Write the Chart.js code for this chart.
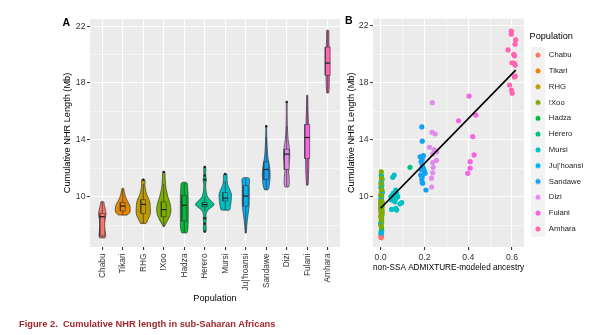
<!DOCTYPE html>
<html>
<head>
<meta charset="utf-8">
<script src="https://cdn.jsdelivr.net/npm/chart.js@4.4.1/dist/chart.umd.min.js"></script>
<style>
  body { margin: 0; background: #fff; font-family: 'Liberation Sans', Arial, sans-serif; }
  #page { position: relative; width: 600px; height: 335px; overflow: hidden; }
  #page canvas { position: absolute; top: 0; }
  .tag { position: absolute; font-size: 10.5px; font-weight: bold; line-height: 1; color: #000; }
  #caption { position: absolute; left: 19px; top: 319.5px; font-size: 9.3px; font-weight: bold; line-height: 1;
             color: #A1272E; white-space: pre; }
</style>
</head>
<body>
<div id="page">
  <canvas id="nhrViolin" width="345" height="335" style="left:0"></canvas>
  <canvas id="nhrScatter" width="260" height="335" style="left:340px"></canvas>
  <div class="tag" style="left:62.5px;top:17px">A</div>
  <div class="tag" style="left:345px;top:15.3px">B</div>
  <div id="caption">Figure 2.  Cumulative NHR length in sub-Saharan Africans</div>
</div>
<script>
// populations, in axis order
const populations = ["Chabu", "Tikari", "RHG", "!Xoo", "Hadza", "Herero", "Mursi",
  "Ju|'hoansi", "Sandawe", "Dizi", "Fulani", "Amhara"];
const popColors = ["#F8766D", "#E58700", "#C09B00", "#7CAE00", "#00BA38", "#00C08B",
  "#00BFC4", "#00B4F0", "#12A2F2", "#E18BEB", "#F564E3", "#FF64B0"];

// shared length axis (Mb)
const yTicks = [8, 10, 12, 14, 16, 18, 20, 22];
const yTickLabels = [10, 14, 18, 22];
// admixture axis
const xTicksB = [0, 0.1, 0.2, 0.3, 0.4, 0.5, 0.6];
const xTickLabelsB = [0, 0.2, 0.4, 0.6];

// box plot summaries per population
const whiskerLow  = [7.12, 8.72, 8.13, 7.90, 7.47, 9.00, 9.07, 7.45, 10.50, 10.70, 10.82, 17.30];
const boxQ1       = [7.24, 9.00, 8.83, 8.60, 8.30, 9.30, 9.70, 9.35, 11.22, 11.92, 12.69, 18.54];
const boxMedian   = [8.60, 9.35, 9.47, 9.10, 9.40, 9.45, 9.90, 10.05, 11.92, 13.00, 14.17, 19.40];
const boxQ3       = [8.83, 9.60, 9.80, 9.65, 10.10, 9.60, 10.30, 10.80, 12.46, 13.35, 15.08, 20.53];
const whiskerHigh = [9.65, 10.59, 10.90, 10.90, 10.98, 10.00, 11.10, 11.30, 14.20, 15.00, 17.14, 21.70];
const boxOutliers = [[], [], [11.2], [11.75], [], [12.1, 11.5, 11.2, 8.5, 8.1, 7.55], [11.6], [],
  [14.96], [16.67], [], []];

// violin profiles: [length, relative density]
const violinShapes = [
  [[7.12, 0.30], [7.3, 0.36], [7.6, 0.30], [7.9, 0.22], [8.2, 0.24], [8.5, 0.34], [8.8, 0.40], [9.1, 0.34], [9.4, 0.22], [9.65, 0.14]],
  [[8.72, 0.45], [8.85, 0.70], [9.0, 0.80], [9.2, 0.80], [9.45, 0.72], [9.7, 0.50], [10.0, 0.30], [10.3, 0.18], [10.59, 0.08]],
  [[8.13, 0.30], [8.4, 0.50], [8.7, 0.72], [9.0, 0.78], [9.3, 0.75], [9.6, 0.72], [9.9, 0.55], [10.2, 0.35], [10.5, 0.25], [10.8, 0.18], [11.2, 0.16]],
  [[7.9, 0.05], [8.2, 0.30], [8.5, 0.55], [8.8, 0.72], [9.1, 0.78], [9.4, 0.72], [9.7, 0.60], [10.0, 0.45], [10.4, 0.30], [10.8, 0.20], [11.3, 0.15], [11.75, 0.10]],
  [[7.47, 0.28], [7.7, 0.38], [8.2, 0.42], [8.8, 0.43], [9.4, 0.43], [10.0, 0.42], [10.5, 0.38], [10.98, 0.28]],
  [[7.55, 0.12], [7.8, 0.16], [8.1, 0.12], [8.5, 0.16], [8.8, 0.14], [9.1, 0.40], [9.35, 0.90], [9.5, 1.00], [9.7, 0.70], [10.0, 0.30], [10.4, 0.14], [10.9, 0.10], [11.2, 0.18], [11.5, 0.10], [12.1, 0.10]],
  [[9.07, 0.45], [9.3, 0.55], [9.6, 0.62], [9.9, 0.66], [10.2, 0.66], [10.5, 0.50], [10.8, 0.30], [11.1, 0.20], [11.35, 0.20], [11.6, 0.15]],
  [[7.45, 0.05], [7.9, 0.10], [8.4, 0.18], [8.9, 0.28], [9.3, 0.36], [9.8, 0.38], [10.3, 0.38], [10.8, 0.38], [11.3, 0.36]],
  [[10.5, 0.20], [10.8, 0.33], [11.2, 0.40], [11.6, 0.42], [12.0, 0.38], [12.4, 0.28], [12.8, 0.18], [13.3, 0.12], [13.9, 0.08], [14.5, 0.05], [14.96, 0.04]],
  [[10.7, 0.20], [11.0, 0.28], [11.4, 0.25], [11.8, 0.20], [12.2, 0.22], [12.6, 0.30], [13.0, 0.33], [13.4, 0.30], [13.8, 0.20], [14.3, 0.12], [15.0, 0.07], [15.8, 0.05], [16.67, 0.04]],
  [[10.82, 0.08], [11.5, 0.14], [12.2, 0.17], [12.8, 0.18], [13.5, 0.17], [14.2, 0.16], [15.0, 0.14], [15.8, 0.10], [16.5, 0.07], [17.14, 0.05]],
  [[17.3, 0.10], [17.8, 0.16], [18.4, 0.18], [19.0, 0.18], [19.6, 0.18], [20.2, 0.16], [20.8, 0.14], [21.3, 0.12], [21.7, 0.10]],
];

// individuals: non-SSA ancestry and cumulative NHR length
const ancestry = [
  [0.002, 0.004, 0.001, 0.003, 0.005, 0.002, 0.004, 0.001, 0.003, 0.002, 0.005, 0.003, 0.002],
  [0.003, 0.005, 0.002, 0.004, 0.006, 0.003, 0.001, 0.004, 0.002, 0.005, 0.003, 0.004, 0.002, 0.003],
  [0.004, 0.002, 0.006, 0.003, 0.005, 0.002, 0.004, 0.007, 0.003, 0.005, 0.002, 0.004, 0.006, 0.003, 0.005],
  [0.003, 0.005, 0.002, 0.004, 0.006, 0.003, 0.001, 0.005, 0.002, 0.004, 0.003, 0.005, 0.002, 0.004, 0.003],
  [0.002, 0.004, 0.001, 0.003, 0.005, 0.002, 0.004, 0.003, 0.001, 0.005, 0.002, 0.004],
  [0.003, 0.001, 0.004, 0.002, 0.005, 0.003, 0.006, 0.002, 0.004, 0.001, 0.005, 0.003, 0.002, 0.004, 0.006, 0.003, 0.134],
  [0.073, 0.050, 0.069, 0.088, 0.096, 0.065, 0.050, 0.060, 0.070, 0.047, 0.078, 0.062, 0.057, 0.073, 0.069, 0.055, 0.062],
  [0.004, 0.002, 0.005, 0.003, 0.006, 0.002, 0.004, 0.007, 0.003, 0.005, 0.002, 0.004],
  [0.207, 0.192, 0.190, 0.188, 0.190, 0.183, 0.203, 0.200, 0.186, 0.195, 0.190, 0.185, 0.190, 0.180, 0.195, 0.190, 0.188],
  [0.233, 0.232, 0.238, 0.240, 0.238, 0.255, 0.238, 0.256, 0.249, 0.244, 0.223, 0.249, 0.235, 0.236],
  [0.398, 0.409, 0.409, 0.427, 0.421, 0.356, 0.435, 0.404],
  [0.601, 0.598, 0.589, 0.611, 0.615, 0.615, 0.611, 0.600, 0.612, 0.608, 0.582, 0.614, 0.617, 0.597, 0.597],
];
const nhrLength = [
  [7.12, 7.2, 7.3, 7.4, 7.6, 8.0, 8.5, 8.6, 8.7, 8.8, 8.85, 9.2, 9.65],
  [8.72, 8.9, 9.0, 9.1, 9.2, 9.3, 9.35, 9.4, 9.5, 9.6, 9.7, 10.0, 10.3, 10.59],
  [8.13, 8.5, 8.8, 8.9, 9.0, 9.2, 9.4, 9.47, 9.6, 9.7, 9.8, 9.9, 10.3, 10.9, 11.2],
  [7.9, 8.3, 8.6, 8.8, 9.0, 9.1, 9.2, 9.4, 9.6, 9.7, 10.1, 10.5, 10.9, 11.3, 11.75],
  [7.47, 7.8, 8.1, 8.3, 8.7, 9.1, 9.4, 9.8, 10.1, 10.4, 10.7, 10.98],
  [7.55, 8.1, 8.5, 9.0, 9.3, 9.35, 9.4, 9.45, 9.5, 9.5, 9.55, 9.6, 9.7, 10.0, 11.2, 11.5, 12.06],
  [9.06, 9.11, 9.18, 9.5, 9.58, 9.65, 9.77, 9.8, 9.9, 10.0, 10.0, 10.05, 10.24, 10.24, 10.47, 11.36, 11.52],
  [7.45, 8.2, 8.9, 9.35, 9.6, 9.9, 10.05, 10.3, 10.6, 10.8, 11.0, 11.3],
  [10.47, 10.94, 11.0, 11.22, 11.4, 11.52, 11.64, 11.8, 11.9, 12.0, 12.2, 12.46, 12.6, 12.8, 12.88, 13.9, 14.9],
  [10.68, 11.3, 11.68, 12.06, 12.4, 12.55, 13.0, 13.16, 13.2, 13.3, 13.47, 14.4, 14.52, 16.6],
  [11.64, 12.0, 12.46, 12.93, 14.21, 15.33, 15.73, 17.06],
  [17.26, 17.49, 17.84, 18.4, 18.47, 19.24, 19.36, 19.4, 19.9, 19.99, 20.3, 20.7, 21.0, 21.4, 21.63],
];
// stacking of the overlapping points at zero ancestry (lower = on top)
const pointLayer = [7, 3, 4, 1, 6, 5, 1, 2, 1, 1, 1, 1];

// linear fit of length on ancestry
const fitAncestry = [0, 0.617];
const fitLength = [9.19, 18.88];

Chart.defaults.font.family = "'Liberation Sans', Arial, sans-serif";
Chart.defaults.color = "#333333";

const VIOLIN_HALF = 0.45;
const BOX_HALF = 0.12;

const panelBg = {
  id: "panelBg",
  beforeDraw(chart) {
    const { ctx, chartArea: a } = chart;
    ctx.save();
    ctx.fillStyle = "#EBEBEB";
    ctx.fillRect(a.left, a.top, a.right - a.left, a.bottom - a.top);
    ctx.restore();
  },
};

function lengthAxis(width, titlePad) {
  return {
    type: "linear",
    min: 6.47,
    max: 22.5,
    afterBuildTicks: (s) => { s.ticks = yTicks.map((value) => ({ value })); },
    afterFit: (s) => { s.width = width; },
    border: { display: false },
    grid: {
      color: "#FFFFFF",
      lineWidth: (c) => (yTickLabels.includes(c.tick.value) ? 1.1 : 0.5),
      tickColor: (c) => (yTickLabels.includes(c.tick.value) ? "#333333" : "rgba(0,0,0,0)"),
      tickLength: 3,
      tickWidth: 1,
    },
    ticks: {
      autoSkip: false,
      padding: 1.5,
      color: "#333333",
      font: { size: 8.7 },
      callback: (v) => (yTickLabels.includes(v) ? String(v) : ""),
    },
    title: {
      display: true,
      text: "Cumulative NHR Length (Mb)",
      color: "#000000",
      font: { size: 9.2 },
      padding: { top: titlePad, bottom: 0 },
    },
  };
}

function violinOutline(x0, shape) {
  const left = shape.map(([v, d]) => ({ x: x0 - d * VIOLIN_HALF, y: v }));
  const right = shape.slice().reverse().map(([v, d]) => ({ x: x0 + d * VIOLIN_HALF, y: v }));
  return [...left, ...right, left[0]];
}

// ---- panel A: violins with box plots
const violinSets = [];
populations.forEach((name, i) => {
  const x0 = i + 1;
  violinSets.push({
    data: violinOutline(x0, violinShapes[i]),
    showLine: true, fill: "shape", tension: 0.3,
    backgroundColor: popColors[i], borderColor: "#333333", borderWidth: 0.7,
    pointRadius: 0, order: 4,
  });
  violinSets.push({
    data: [{ x: x0, y: whiskerLow[i] }, { x: x0, y: whiskerHigh[i] }],
    showLine: true, fill: false, borderColor: "#333333", borderWidth: 0.7,
    pointRadius: 0, order: 3,
  });
  violinSets.push({
    data: [
      { x: x0 - BOX_HALF, y: boxQ1[i] }, { x: x0 + BOX_HALF, y: boxQ1[i] },
      { x: x0 + BOX_HALF, y: boxQ3[i] }, { x: x0 - BOX_HALF, y: boxQ3[i] },
      { x: x0 - BOX_HALF, y: boxQ1[i] },
    ],
    showLine: true, fill: "shape", tension: 0,
    backgroundColor: popColors[i], borderColor: "#333333", borderWidth: 0.6,
    pointRadius: 0, order: 2,
  });
  violinSets.push({
    data: [{ x: x0 - BOX_HALF, y: boxMedian[i] }, { x: x0 + BOX_HALF, y: boxMedian[i] }],
    showLine: true, fill: false, borderColor: "#1A1A1A", borderWidth: 1.2,
    pointRadius: 0, order: 1,
  });
});
violinSets.push({
  data: boxOutliers.flatMap((vals, i) => vals.map((v) => ({ x: i + 1, y: v }))),
  showLine: false, pointRadius: 1.2, pointBorderWidth: 0,
  backgroundColor: "#1A1A1A", order: 0,
});

new Chart(document.getElementById("nhrViolin"), {
  type: "scatter",
  data: { datasets: violinSets },
  options: {
    responsive: false,
    animation: false,
    events: [],
    layout: { padding: { left: 60, top: 19, right: 5, bottom: 30 } },
    plugins: { legend: { display: false }, tooltip: { enabled: false } },
    scales: {
      x: {
        type: "linear",
        min: 0.4,
        max: 12.6,
        afterBuildTicks: (s) => { s.ticks = populations.map((p, i) => ({ value: i + 1 })); },
        afterFit: (s) => { s.height = 58; },
        border: { display: false },
        grid: { color: "#FFFFFF", lineWidth: 1.1, tickColor: "#333333", tickLength: 3 },
        ticks: {
          autoSkip: false, minRotation: 90, maxRotation: 90, padding: 3.5,
          color: "#333333", font: { size: 8.3 },
          callback: (v) => populations[v - 1],
        },
        title: { display: true, text: "Population", color: "#000000", font: { size: 9.2 }, padding: { top: 0, bottom: 1 } },
      },
      y: lengthAxis(30, 2),
    },
  },
  plugins: [panelBg],
});

// ---- panel B: length against admixture
const legendKeys = popColors.map((col) => {
  const c = document.createElement("canvas");
  c.width = 14;
  c.height = 16;
  const g = c.getContext("2d");
  g.fillStyle = "#F2F2F2";
  g.fillRect(0, 0, 14, 16);
  g.fillStyle = col;
  g.beginPath();
  g.arc(7, 8, 2.5, 0, Math.PI * 2);
  g.fill();
  return c;
});

const scatterSets = populations.map((name, i) => ({
  label: name,
  data: ancestry[i].map((a, k) => ({ x: a, y: nhrLength[i][k] })),
  backgroundColor: popColors[i],
  pointRadius: 2.6,
  pointBorderWidth: 0,
  order: pointLayer[i],
}));
scatterSets.push({
  label: "fit",
  data: fitAncestry.map((a, k) => ({ x: a, y: fitLength[k] })),
  showLine: true, fill: false, borderColor: "#000000", borderWidth: 1.7,
  pointRadius: 0, order: 0,
});

new Chart(document.getElementById("nhrScatter"), {
  type: "scatter",
  data: { datasets: scatterSets },
  options: {
    responsive: false,
    animation: false,
    events: [],
    layout: { padding: { left: 3, top: 18.6, right: 8.5, bottom: 62 } },
    plugins: {
      tooltip: { enabled: false },
      legend: {
        position: "right",
        align: "start",
        fullSize: false,
        maxWidth: 62,
        title: {
          display: true, text: "Population", position: "start", color: "#000000",
          font: { size: 9.2 }, padding: { top: 13.5, bottom: 6.6 },
        },
        labels: {
          usePointStyle: true,
          pointStyleWidth: 14,
          padding: 1.5,
          color: "#1A1A1A",
          font: { size: 7.7, lineHeight: 1.857 },
          generateLabels: () => populations.map((name, i) => ({
            text: [name], pointStyle: legendKeys[i], fillStyle: popColors[i],
            strokeStyle: popColors[i], lineWidth: 0, hidden: false, datasetIndex: i,
            fontColor: "#1A1A1A",
          })),
        },
      },
    },
    scales: {
      x: {
        type: "linear",
        min: -0.035,
        max: 0.655,
        afterBuildTicks: (s) => { s.ticks = xTicksB.map((value) => ({ value })); },
        afterFit: (s) => { s.height = 26; },
        border: { display: false },
        grid: {
          color: "#FFFFFF",
          lineWidth: (c) => (xTickLabelsB.includes(c.tick.value) ? 1.1 : 0.5),
          tickColor: (c) => (xTickLabelsB.includes(c.tick.value) ? "#333333" : "rgba(0,0,0,0)"),
          tickLength: 3,
        },
        ticks: {
          autoSkip: false, maxRotation: 0, padding: 2.5, color: "#333333", font: { size: 8.7 },
          callback: (v) => (xTickLabelsB.includes(v) ? v.toFixed(1) : ""),
        },
        title: {
          display: true, text: "non-SSA ADMIXTURE-modeled ancestry", color: "#000000",
          font: { size: 9.2 }, padding: { top: 0, bottom: 0.2 },
        },
      },
      y: lengthAxis(30, 2.5),
      gap: {
        type: "linear",
        position: "right",
        display: true,
        grid: { display: false },
        border: { display: false },
        ticks: { display: false },
        afterFit: (s) => { s.width = 5.5; },
      },
    },
  },
  plugins: [panelBg],
});
</script>
</body>
</html>
